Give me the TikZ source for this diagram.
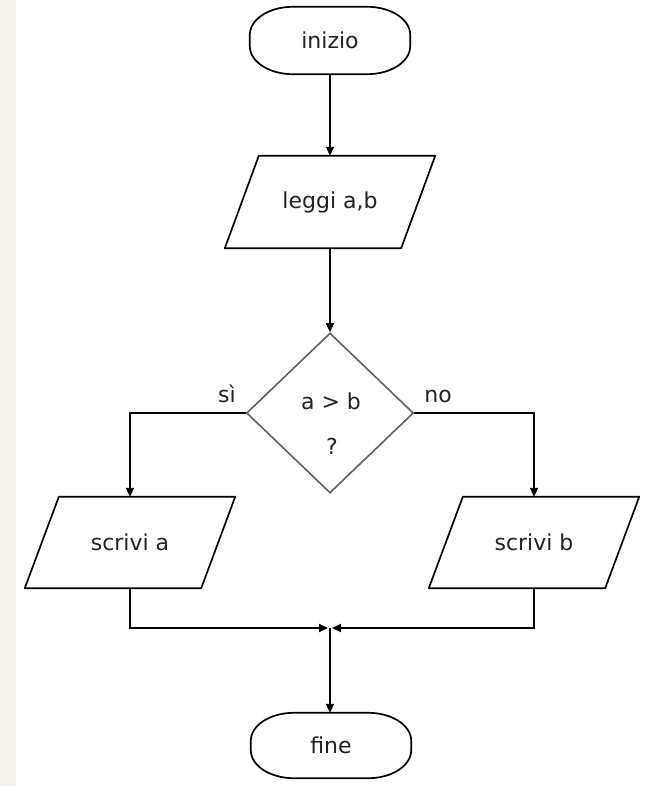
\documentclass[tikz,border=0pt]{standalone}
\usepackage{fontspec}
\setmainfont{DejaVu Sans}
\usetikzlibrary{arrows.meta,shapes.geometric}
\definecolor{stripcol}{HTML}{F2F1EC}
\definecolor{inkcol}{HTML}{222222}
\newcommand{\paraoutline}[1]{%
  \draw[outl] ([xshift=17pt]#1.north west) -- ([xshift=17pt]#1.north east)
    -- ([xshift=-17pt]#1.south east) -- ([xshift=-17pt]#1.south west) -- cycle;}
\newcommand{\termoutline}[1]{%
  \draw[outl] ([xshift=43pt]#1.north west) -- ([xshift=-43pt]#1.north east)
    arc[start angle=90,end angle=0,x radius=43pt,y radius=28pt]
    -- ([yshift=28pt]#1.south east)
    arc[start angle=0,end angle=-90,x radius=43pt,y radius=28pt]
    -- ([xshift=43pt]#1.south west)
    arc[start angle=270,end angle=180,x radius=43pt,y radius=28pt]
    -- ([yshift=-28pt]#1.north west)
    arc[start angle=180,end angle=90,x radius=43pt,y radius=28pt] -- cycle;}
\begin{document}
\begin{tikzpicture}[x=1pt,y=-1pt,
  txt/.style={font=\fontsize{22}{26}\selectfont, text=inkcol, inner sep=0pt},
  box/.style={txt, draw=none},
  outl/.style={draw=black, line width=1.7pt, line join=round},
  conn/.style={draw=black, line width=1.8pt},
  arr/.style={conn, -{Triangle[length=9pt,width=8pt]}},
  decis/.style={diamond, draw=black!62, line width=1.6pt, minimum width=167pt,
    minimum height=160pt, inner sep=0pt}
]
\fill[white] (0,0) rectangle (669,786);
\fill[stripcol] (0,0) rectangle (16,786);
\useasboundingbox (0,0) rectangle (669,786);

% nodes
\node[box, minimum width=160pt, minimum height=67pt] (inizio) at (330,40.5) {inizio};
\node[box, minimum width=176pt, minimum height=92pt] (leggi) at (330,202) {leggi a,b};
\node[decis] (dec) at (330,413) {};
\node[txt] (q1) at (331,401) {a > b};
\node[txt] (q2) at (332,446) {?};
\node[box, minimum width=176pt, minimum height=91pt] (sa) at (130,542.5) {scrivi a};
\node[box, minimum width=176pt, minimum height=91pt] (sb) at (534,542.5) {scrivi b};
\node[box, minimum width=160pt, minimum height=65pt] (fine) at (331,745.5) {fine};
\node[txt, anchor=base] (si) at (227,402) {sì};
\node[txt, anchor=base] (no) at (438,402) {no};
\coordinate (m) at (330,628);

% outlines
\termoutline{inizio}
\termoutline{fine}
\paraoutline{leggi}
\paraoutline{sa}
\paraoutline{sb}

% connectors
\draw[arr] (inizio.south) -- (leggi.north);
\draw[arr] (leggi.south) -- (dec.north);
\draw[arr] (dec.west) -| (sa.north);
\draw[arr] (dec.east) -| (sb.north);
\draw[arr] (sa.south) |- ([xshift=-2pt]m);
\draw[arr] (sb.south) |- ([xshift=2pt]m);
\draw[arr] (m) -- (fine.north -| m);
\end{tikzpicture}
\end{document}
